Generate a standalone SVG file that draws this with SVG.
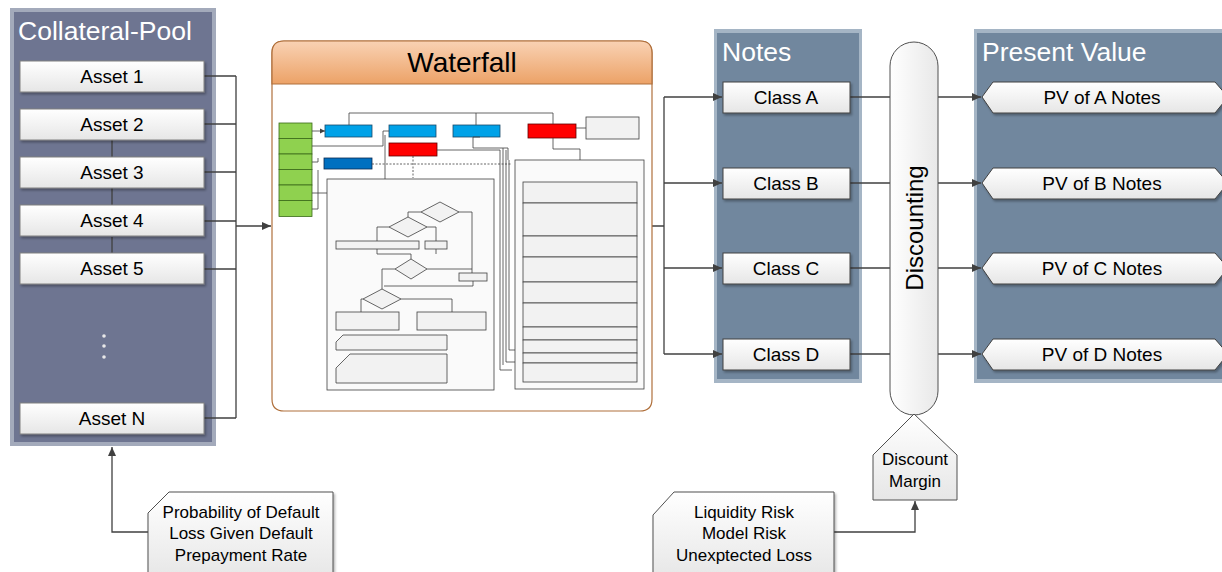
<svg xmlns="http://www.w3.org/2000/svg" width="1222" height="572" viewBox="0 0 1222 572">
<defs>
<linearGradient id="gBox" x1="0" y1="0" x2="0" y2="1"><stop offset="0" stop-color="#ffffff"/><stop offset="1" stop-color="#e6e6e6"/></linearGradient>
<linearGradient id="gHead" x1="0" y1="0" x2="0" y2="1"><stop offset="0" stop-color="#f9d2b4"/><stop offset="1" stop-color="#eca267"/></linearGradient>
<linearGradient id="gPill" x1="0" y1="0" x2="1" y2="0"><stop offset="0" stop-color="#ffffff"/><stop offset="1" stop-color="#e8e8e8"/></linearGradient>
<marker id="arr" markerWidth="10" markerHeight="10" refX="9" refY="5" orient="auto" markerUnits="userSpaceOnUse"><path d="M0,1 L9,5 L0,9 Z" fill="#404040"/></marker>
<marker id="arrS" markerWidth="6" markerHeight="6" refX="5" refY="3" orient="auto" markerUnits="userSpaceOnUse"><path d="M0,0.5 L5,3 L0,5.5 Z" fill="#404040"/></marker>
<filter id="sh" x="-5%" y="-5%" width="115%" height="130%"><feDropShadow dx="1.5" dy="2" stdDeviation="1" flood-color="#000" flood-opacity="0.3"/></filter>
</defs>
<style>
.title{font-family:"Liberation Sans",Arial,sans-serif;font-size:26.5px;fill:#ffffff}
.lbl{font-family:"Liberation Sans",Arial,sans-serif;font-size:19px;fill:#000;text-anchor:middle}
.nt{font-family:"Liberation Sans",Arial,sans-serif;font-size:17px;fill:#000;text-anchor:middle}
.box{fill:url(#gBox);stroke:#808080;stroke-width:1}
.cbox{fill:url(#gBox);stroke:#404040;stroke-width:1}
.con{fill:none;stroke:#404040;stroke-width:1.3}
.w{fill:none;stroke:#404040;stroke-width:0.8}
.wf{fill:#f2f2f2;stroke:#404040;stroke-width:0.8}
.wfr{fill:#fafafa;stroke:#404040;stroke-width:0.8}
.green{fill:#8fd14f;stroke:#3a6a1a;stroke-width:0.8}
.lblue{fill:#00a2e8;stroke:#1a4a6a;stroke-width:0.8}
.red{fill:#ff0000;stroke:#600000;stroke-width:0.8}
.dblue{fill:#0070c0;stroke:#0a2a50;stroke-width:0.8}
</style>

<!-- Panels -->
<g id="collateral-pool">
<rect x="10" y="8" width="206" height="438" fill="#a3aabb"/>
<rect x="14" y="12" width="198" height="430" fill="#6e7591"/>
<text class="title" x="18" y="40">Collateral-Pool</text>
</g>
<g id="notes-panel">
<rect x="714" y="29" width="148" height="354" fill="#a5b5c5"/>
<rect x="717" y="33" width="142" height="346" fill="#71879e"/>
<text class="title" x="722" y="61">Notes</text>
</g>
<g id="pv-panel">
<rect x="974" y="29" width="252" height="354" fill="#a5b5c5"/>
<rect x="977" y="33" width="249" height="346" fill="#71879e"/>
<text class="title" x="982" y="61">Present Value</text>
</g>

<!-- Connectors -->
<g id="connectors">
<path class="con" d="M204,76 H236 M204,124 H236 M204,172 H236 M204,221 H236 M204,269 H236 M204,418 H236 M236,76 V418"/>
<path class="con" d="M112,140 V157 M112,188 V205 M112,237 V253"/>
<path class="con" d="M236,226 H271" marker-end="url(#arr)"/>
<path class="con" d="M652,226 H664 M664,97 V354"/>
<path class="con" d="M664,97 H722" marker-end="url(#arr)"/>
<path class="con" d="M664,183 H722" marker-end="url(#arr)"/>
<path class="con" d="M664,268 H722" marker-end="url(#arr)"/>
<path class="con" d="M664,354 H722" marker-end="url(#arr)"/>
<path class="con" d="M850,97 H890 M850,183 H890 M850,268 H890 M850,354 H890"/>
<path class="con" d="M938,97 H981" marker-end="url(#arr)"/>
<path class="con" d="M938,183 H981" marker-end="url(#arr)"/>
<path class="con" d="M938,268 H981" marker-end="url(#arr)"/>
<path class="con" d="M938,354 H981" marker-end="url(#arr)"/>
<path class="con" d="M148,532 H112 V447" marker-end="url(#arr)"/>
<path class="con" d="M834,532 H915 V501" marker-end="url(#arr)"/>
</g>

<!-- Assets -->
<g id="asset-1"><rect class="box" x="20" y="61" width="184" height="31" filter="url(#sh)"/><text class="lbl" x="112" y="83">Asset 1</text></g>
<g id="asset-2"><rect class="box" x="20" y="109" width="184" height="31" filter="url(#sh)"/><text class="lbl" x="112" y="131">Asset 2</text></g>
<g id="asset-3"><rect class="box" x="20" y="157" width="184" height="31" filter="url(#sh)"/><text class="lbl" x="112" y="179">Asset 3</text></g>
<g id="asset-4"><rect class="box" x="20" y="205" width="184" height="31" filter="url(#sh)"/><text class="lbl" x="112" y="227">Asset 4</text></g>
<g id="asset-5"><rect class="box" x="20" y="253" width="184" height="31" filter="url(#sh)"/><text class="lbl" x="112" y="275">Asset 5</text></g>
<g id="dots" fill="#e8e8e8"><circle cx="104" cy="336" r="1.8"/><circle cx="104" cy="346" r="1.8"/><circle cx="104" cy="357" r="1.8"/></g>
<g id="asset-n"><rect class="box" x="20" y="403" width="184" height="31" filter="url(#sh)"/><text class="lbl" x="112" y="425">Asset N</text></g>

<!-- Waterfall -->
<g id="waterfall">
<path d="M284,41 H640 Q652,41 652,53 V399 Q652,411 640,411 H284 Q272,411 272,399 V53 Q272,41 284,41 Z" fill="#ffffff" stroke="#b0703c" stroke-width="1.2"/>
<path d="M284,41 H640 Q652,41 652,53 V84 H272 V53 Q272,41 284,41 Z" fill="url(#gHead)" stroke="#b0703c" stroke-width="1.2"/>
<text x="462" y="72" font-family="Liberation Sans, Arial, sans-serif" font-size="28" text-anchor="middle" fill="#000">Waterfall</text>
<!-- inner flowchart -->
<g id="wf-inner">
<rect class="green" x="279" y="123" width="33" height="15.5"/>
<rect class="green" x="279" y="138.5" width="33" height="15.5"/>
<rect class="green" x="279" y="154" width="33" height="15.5"/>
<rect class="green" x="279" y="169.5" width="33" height="15.5"/>
<rect class="green" x="279" y="185" width="33" height="15.5"/>
<rect class="green" x="279" y="200.5" width="33" height="16"/>
<rect class="lblue" x="325" y="125" width="47" height="12"/>
<rect class="lblue" x="389" y="125" width="47" height="12"/>
<rect class="lblue" x="453" y="125" width="47" height="12"/>
<rect class="red" x="528" y="124" width="48" height="14"/>
<rect class="red" x="389" y="143" width="48" height="13"/>
<rect class="dblue" x="324" y="158" width="48" height="11"/>
<rect class="wf" x="586" y="117" width="53" height="22"/>
<path class="w" d="M349,125 V113 H553 V124 M476,125 V113"/>
<path class="w" d="M312,131 H325" marker-end="url(#arrS)"/>
<path class="w" d="M312,146 H383 V131 H389 M312,162 H318 V158 M312,193 H385 V135 M312,209 H318 V170"/>
<path class="w" d="M586,128 H576 M553,138 V149 H580 V160"/>
<path class="w" d="M480,137 H473 V148 H508 V160 M437,150 H500 V370 H512"/>
<path class="w" stroke-dasharray="2,1.5" d="M372,164 H512 M413,156 V178"/>
<path class="w" d="M503,148 V365 M506,150 V362 H515 M509,160 V350 H515"/>
<rect class="wfr" x="327" y="179" width="167" height="211"/>
<rect class="wfr" x="515" y="160" width="129" height="229"/>
<rect class="wf" x="523" y="182" width="114" height="21"/>
<rect class="wf" x="523" y="203" width="114" height="33"/>
<rect class="wf" x="523" y="236" width="114" height="21"/>
<rect class="wf" x="523" y="257" width="114" height="25"/>
<rect class="wf" x="523" y="282" width="114" height="21"/>
<rect class="wf" x="523" y="303" width="114" height="24"/>
<rect class="wf" x="523" y="327" width="114" height="13"/>
<rect class="wf" x="523" y="340" width="114" height="13"/>
<rect class="wf" x="523" y="353" width="114" height="10"/>
<rect class="wf" x="523" y="363" width="114" height="19"/>
<polygon class="wf" points="440,202 459,212 440,222 421,212"/>
<polygon class="wf" points="408,217 427,227 408,237 389,227"/>
<rect class="wf" x="336" y="241" width="83" height="8"/>
<rect class="wf" x="425" y="241" width="22" height="8"/>
<polygon class="wf" points="411,259 427,269 411,279 395,269"/>
<rect class="wf" x="459" y="273" width="28" height="8"/>
<polygon class="wf" points="382,289 401,299 382,309 363,299"/>
<rect class="wf" x="336" y="312" width="63" height="18"/>
<rect class="wf" x="417" y="312" width="69" height="18"/>
<path class="wf" d="M343,335 H447 V350 H336 V342 Z"/>
<path class="wf" d="M350,354 H447 V383 H336 V368 Z"/>
<path class="w" d="M421,212 H408 V217 M459,212 H472 V273 M389,227 H377 V241 M427,227 H436 V241 M377,249 V254 H411 V259 M436,249 V254 M427,269 H472 M395,269 H382 V289 M473,281 V286 H384 M363,299 H361 V312 M401,299 H452 V312"/>
</g>
</g>

<!-- Classes -->
<g id="class-a"><rect class="cbox" x="723" y="82" width="127" height="31" filter="url(#sh)"/><text class="lbl" x="786" y="104">Class A</text></g>
<g id="class-b"><rect class="cbox" x="723" y="168" width="127" height="31" filter="url(#sh)"/><text class="lbl" x="786" y="190">Class B</text></g>
<g id="class-c"><rect class="cbox" x="723" y="253" width="127" height="31" filter="url(#sh)"/><text class="lbl" x="786" y="275">Class C</text></g>
<g id="class-d"><rect class="cbox" x="723" y="339" width="127" height="31" filter="url(#sh)"/><text class="lbl" x="786" y="361">Class D</text></g>

<!-- Discounting -->
<g id="discounting">
<rect x="890" y="42" width="48" height="373" rx="24" ry="24" fill="url(#gPill)" stroke="#505050" stroke-width="1"/>
<text x="0" y="0" transform="translate(923,228) rotate(-90)" font-family="Liberation Sans, Arial, sans-serif" font-size="24" text-anchor="middle" fill="#000">Discounting</text>
</g>

<!-- PV -->
<g id="pv-a"><polygon class="cbox" points="982,97 993,82 1215,82 1228,97 1215,113 993,113" filter="url(#sh)"/><text class="lbl" x="1102" y="104">PV of A Notes</text></g>
<g id="pv-b"><polygon class="cbox" points="982,183 993,168 1215,168 1228,183 1215,199 993,199" filter="url(#sh)"/><text class="lbl" x="1102" y="190">PV of B Notes</text></g>
<g id="pv-c"><polygon class="cbox" points="982,268 993,253 1215,253 1228,268 1215,284 993,284" filter="url(#sh)"/><text class="lbl" x="1102" y="275">PV of C Notes</text></g>
<g id="pv-d"><polygon class="cbox" points="982,354 993,339 1215,339 1228,354 1215,370 993,370" filter="url(#sh)"/><text class="lbl" x="1102" y="361">PV of D Notes</text></g>

<!-- Discount Margin -->
<g id="discount-margin">
<polygon points="873,455 914,414 957,455 957,500 873,500" fill="url(#gBox)" stroke="#505050" stroke-width="1"/>
<text class="nt" x="915" y="465">Discount</text>
<text class="nt" x="915" y="487">Margin</text>
</g>

<!-- Risk notes -->
<g id="risk-params">
<path d="M148,513 L169,492 H333 V580 H148 Z" fill="url(#gBox)" stroke="#505050" stroke-width="1" filter="url(#sh)"/>
<text class="nt" x="241" y="518">Probability of Default</text>
<text class="nt" x="241" y="539">Loss Given Default</text>
<text class="nt" x="241" y="561">Prepayment Rate</text>
</g>
<g id="market-risks">
<path d="M653,515 L674,492 H834 V580 H653 Z" fill="url(#gBox)" stroke="#505050" stroke-width="1" filter="url(#sh)"/>
<text class="nt" x="744" y="518">Liquidity Risk</text>
<text class="nt" x="744" y="539">Model Risk</text>
<text class="nt" x="744" y="561">Unexptected Loss</text>
</g>
</svg>
